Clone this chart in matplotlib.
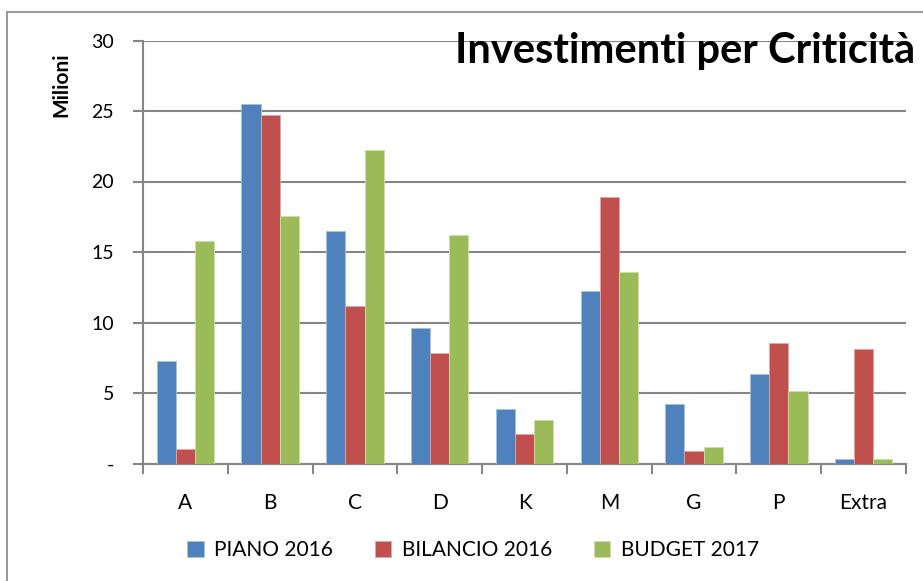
import matplotlib.pyplot as plt
import matplotlib.patches as mpatches
import numpy as np

plt.rcParams['font.family'] = ['Lato', 'DejaVu Sans']

categories = ['A', 'B', 'C', 'D', 'K', 'M', 'G', 'P', 'Extra']
piano_2016 = [7.3, 25.5, 16.5, 9.6, 3.9, 12.2, 4.2, 6.35, 0.3]
bilancio_2016 = [1.0, 24.7, 11.15, 7.85, 2.1, 18.9, 0.9, 8.55, 8.1]
budget_2017 = [15.8, 17.55, 22.2, 16.2, 3.1, 13.6, 1.15, 5.15, 0.3]
series_names = ['PIANO 2016', 'BILANCIO 2016', 'BUDGET 2017']
colors = ['#4F81BD', '#C0504D', '#9BBB59']
edges = ['#A7C0DE', '#DFA8A6', '#CDDDAC']
yticks = [0, 5, 10, 15, 20, 25, 30]
ytick_labels = ['-', '5', '10', '15', '20', '25', '30']

fig = plt.figure(figsize=(9.23, 5.81), dpi=100)
ax = fig.add_axes([143 / 923, 1 - 463.5 / 581, (906 - 143) / 923, (463.5 - 40.5) / 581])

# outer chart border
fig.patches.append(mpatches.Rectangle((7 / 923, -0.02), 1.0, 1 - 12 / 581 + 0.02,
                                      transform=fig.transFigure, fill=False,
                                      edgecolor='#868686', linewidth=1.2))

x = np.arange(len(categories))
w = 0.226
for i, (vals, name) in enumerate(zip([piano_2016, bilancio_2016, budget_2017], series_names)):
    ax.bar(x + (i - 1) * w, vals, width=w, color=colors[i], edgecolor=edges[i],
           linewidth=0.6, label=name, zorder=3)

ax.set_xlim(-0.5, len(categories) - 0.5)
ax.set_ylim(0, 30)
ax.set_yticks(yticks)
ax.set_yticklabels(ytick_labels, fontsize=14)
ax.set_xticks(x)
ax.set_xticklabels(categories, fontsize=15)
ax.set_xticks(np.arange(-0.5, len(categories)), minor=True)
ax.tick_params(axis='x', which='major', length=0, pad=21)
ax.tick_params(axis='x', which='minor', length=7, width=1.5, color='#868686', direction='out')
ax.tick_params(axis='y', length=7, width=1.5, color='#868686', direction='out', pad=14)

ax.grid(axis='y', color='#868686', linewidth=1.5, zorder=0)
ax.set_axisbelow(True)
for s in ['top', 'right']:
    ax.spines[s].set_visible(False)
for s in ['left', 'bottom']:
    ax.spines[s].set_color('#868686')
    ax.spines[s].set_linewidth(1.5)

fig.text(61 / 923, 1 - 85 / 581, 'Milioni', rotation=90, fontsize=15, fontweight='bold',
         ha='center', va='center')
fig.text(455 / 923, 1 - 63 / 581, 'Investimenti per Criticità', fontsize=30,
         fontweight='bold', ha='left', va='baseline', zorder=10)

fig.legend(loc='center', bbox_to_anchor=(473 / 923, 1 - 550 / 581), ncol=3, frameon=False,
           fontsize=15, handlelength=0.8, handleheight=0.8, columnspacing=2.0,
           handletextpad=0.5)

fig.savefig('out.png', dpi=100)
